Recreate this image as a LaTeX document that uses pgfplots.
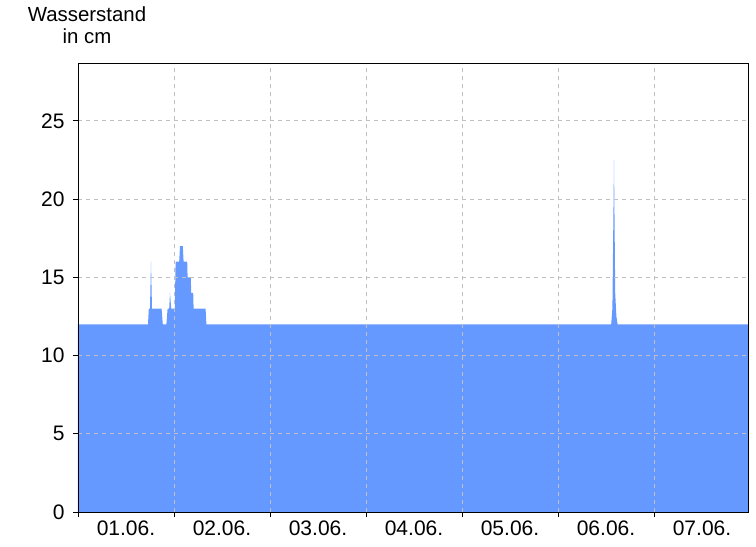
\documentclass[border=0pt]{standalone}
\usepackage{fontspec}
\setmainfont{Liberation Sans}
\usepackage{pgfplots}
\pgfplotsset{compat=1.18}
\definecolor{wfill}{RGB}{102,153,255}
\definecolor{gridc}{RGB}{192,192,192}
\begin{document}
\fontsize{15.5}{16.5}\selectfont
\begin{tikzpicture}
\begin{axis}[
  scale only axis,
  width=502.5pt, height=336.75pt,
  xmin=0, xmax=167.5, ymin=0, ymax=28.7,
  axis on top=true,
  xtick={0,24,48,72,96,120,144},
  xticklabels={},
  extra x ticks={12,36,60,84,108,132,156},
  extra x tick labels={01.06.,02.06.,03.06.,04.06.,05.06.,06.06.,07.06.},
  extra x tick style={major tick length=0pt, grid=none},
  ytick={0,5,10,15,20,25},
  tick align=outside,
  major tick length=3.75pt,
  tick pos=left,
  xmajorgrids, ymajorgrids,
  grid style={gridc, dashed, line width=0.6pt},
  axis line style={black, line width=0.6pt},
  tick style={black, line width=0.6pt},
  ticklabel style={font=\fontsize{15.75}{16.5}\selectfont},
  /pgf/number format/assume math mode=true,
  yticklabel style={xshift=-1pt},
  xticklabel style={yshift=-1pt},
  clip=true,
]
\addplot[fill=wfill, draw=none] coordinates {
(0,12) (17.5,12) (17.7,13) (18.0,13) (18.25,16) (18.5,13) (20.9,13) (21.2,12)
(22.1,12) (22.4,13) (22.8,13) (23.0,14) (23.3,13) (24.2,13) (24.4,16) (25.3,16)
(25.5,17) (26.2,17) (26.4,16) (27.3,16) (27.4,15) (28.2,15) (28.3,14) (28.8,14)
(28.9,13) (31.9,13) (32.1,12) (133.3,12) (133.6,13) (134.0,22.5) (134.3,14)
(134.6,12.5) (134.9,12) (167.5,12)
} \closedcycle;
\coordinate (sw) at (rel axis cs:0,0);
\end{axis}
\node[align=center, font=\fontsize{15.3}{16.5}\selectfont] at ([shift={(6.75pt,365.25pt)}]sw) {Wasserstand\\in cm};
\pgfresetboundingbox
\path ([shift={(-58.5pt,-25.5pt)}]sw) rectangle ([shift={(508.5pt,384pt)}]sw);
\end{tikzpicture}
\end{document}
